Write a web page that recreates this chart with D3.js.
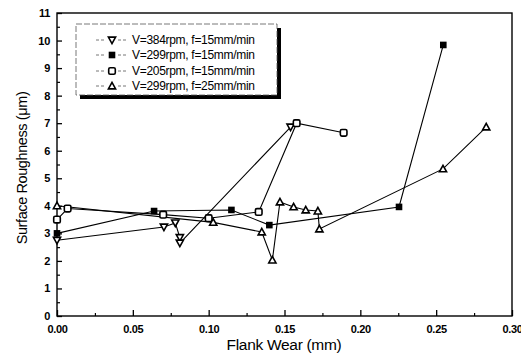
<!DOCTYPE html>
<html>
<head>
<meta charset="utf-8">
<script src="https://cdn.jsdelivr.net/npm/d3@7"></script>
<style>
html,body{margin:0;padding:0;background:#fff;}
svg{display:block;}
text{font-family:"Liberation Sans",Arial,sans-serif;fill:#000;}
</style>
</head>
<body>
<svg id="chart" width="521" height="364"></svg>
<script>
// ---- data ----
const xTicks = [0, 0.05, 0.10, 0.15, 0.20, 0.25, 0.30];
const xTickLabels = ["0.00", "0.05", "0.10", "0.15", "0.20", "0.25", "0.30"];
const yTicks = [0,1,2,3,4,5,6,7,8,9,10,11];
const seriesNames = ["V=384rpm, f=15mm/min", "V=299rpm, f=15mm/min", "V=205rpm, f=15mm/min", "V=299rpm, f=25mm/min"];
const seriesMarkers = ["downTriangle", "filledSquare", "openSquare", "upTriangle"];

const s1x = [0, 0.0705, 0.078, 0.081, 0.081, 0.154];
const s1y = [2.75, 3.23, 3.38, 2.85, 2.65, 6.86];

const s2x = [0, 0.064, 0.115, 0.140, 0.2255, 0.2547];
const s2y = [3.0, 3.81, 3.85, 3.30, 3.96, 9.84];

const s3x = [0, 0.007, 0.070, 0.100, 0.133, 0.158, 0.189];
const s3y = [3.5, 3.9, 3.68, 3.55, 3.78, 7.0, 6.65];

const s4x = [0, 0.103, 0.135, 0.142, 0.147, 0.156, 0.164, 0.172, 0.173, 0.2545, 0.283];
const s4y = [4.0, 3.4, 3.05, 2.03, 4.14, 3.96, 3.85, 3.81, 3.16, 5.34, 6.86];

const allX = [s1x, s2x, s3x, s4x];
const allY = [s1y, s2y, s3y, s4y];

// ---- layout ----
const svg = d3.select("#chart");
const L = 57, R = 512, T = 13, B = 316;
const x = d3.scaleLinear().domain([0, 0.30]).range([L, R]);
const y = d3.scaleLinear().domain([0, 11]).range([B, T]);

// frame
svg.append("rect").attr("x", L).attr("y", T).attr("width", R - L).attr("height", B - T)
  .attr("fill", "none").attr("stroke", "#000").attr("stroke-width", 1.4);

// x axis (ticks inward)
const xMinor = d3.range(0.025, 0.30, 0.05);
svg.append("g").attr("transform", `translate(0,${B})`)
  .call(d3.axisBottom(x).tickValues(xMinor).tickSize(-3).tickFormat(""))
  .call(g => { g.select(".domain").remove(); g.selectAll("line").attr("stroke-width", 1.2); });
const xg = svg.append("g").attr("transform", `translate(0,${B})`)
  .call(d3.axisBottom(x).tickValues(xTicks).tickSize(-6).tickPadding(9)
    .tickFormat((d, i) => xTickLabels[i]));
xg.select(".domain").remove();
xg.selectAll("line").attr("stroke-width", 1.3);
xg.selectAll("text").attr("font-size", 11).attr("font-weight", "bold").attr("letter-spacing", -0.3)
  .style("font-family", "'Liberation Sans', Arial, sans-serif");

// y axis
const yMinor = d3.range(0.5, 11, 1);
svg.append("g").attr("transform", `translate(${L},0)`)
  .call(d3.axisLeft(y).tickValues(yMinor).tickSize(-3).tickFormat(""))
  .call(g => { g.select(".domain").remove(); g.selectAll("line").attr("stroke-width", 1.2); });
const yg = svg.append("g").attr("transform", `translate(${L},0)`)
  .call(d3.axisLeft(y).tickValues(yTicks).tickSize(-5).tickPadding(7).tickFormat(d3.format("d")));
yg.select(".domain").remove();
yg.selectAll("line").attr("stroke-width", 1.3);
yg.selectAll("text").attr("font-size", 11).attr("font-weight", "bold").attr("letter-spacing", -0.3)
  .style("font-family", "'Liberation Sans', Arial, sans-serif");

// axis titles
svg.append("text").attr("x", 284).attr("y", 350).attr("text-anchor", "middle")
  .attr("font-size", 15.5).attr("letter-spacing", -0.3).text("Flank Wear (mm)");
svg.append("text").attr("transform", "translate(27,168) rotate(-90)").attr("text-anchor", "middle")
  .attr("font-size", 14.5).attr("letter-spacing", -0.4).text("Surface Roughness (\u03bcm)");

// markers
function drawMarker(g, type, cx, cy) {
  const s = 3.6;
  if (type === "downTriangle") {
    g.append("path").attr("d", `M${cx - s},${cy - s * 0.8}L${cx + s},${cy - s * 0.8}L${cx},${cy + s * 1.0}Z`)
      .attr("fill", "#fff").attr("stroke", "#000").attr("stroke-width", 1.6);
  } else if (type === "upTriangle") {
    g.append("path").attr("d", `M${cx - s},${cy + s * 0.8}L${cx + s},${cy + s * 0.8}L${cx},${cy - s * 1.0}Z`)
      .attr("fill", "#fff").attr("stroke", "#000").attr("stroke-width", 1.6);
  } else if (type === "filledSquare") {
    g.append("rect").attr("x", cx - 3.3).attr("y", cy - 3.3).attr("width", 6.6).attr("height", 6.6)
      .attr("fill", "#000");
  } else {
    g.append("rect").attr("x", cx - 3.3).attr("y", cy - 3.3).attr("width", 6.6).attr("height", 6.6)
      .attr("rx", 1.5).attr("fill", "#fff").attr("stroke", "#000").attr("stroke-width", 1.6);
  }
}

// lines
const line = d3.line().x(d => x(d[0])).y(d => y(d[1]));
const dataSets = allX.map((xs, i) => xs.map((v, j) => [v, allY[i][j]]));
dataSets.forEach(ds => {
  svg.append("path").datum(ds).attr("d", line).attr("fill", "none")
    .attr("stroke", "#000").attr("stroke-width", 1.1);
});
const mg = svg.append("g");
dataSets.forEach((ds, i) => {
  ds.forEach(p => drawMarker(mg, seriesMarkers[i], x(p[0]), y(p[1])));
});

// legend
const lg = svg.append("g");
lg.append("rect").attr("x", 80).attr("y", 28).attr("width", 201).attr("height", 71).attr("fill", "#000");
lg.append("rect").attr("x", 76).attr("y", 24).attr("width", 201).attr("height", 71)
  .attr("fill", "#fff").attr("stroke", "#555").attr("stroke-width", 0.8).attr("stroke-dasharray", "6,2");
const rowY = [40, 55, 71, 86];
seriesNames.forEach((name, i) => {
  const yy = rowY[i];
  lg.append("line").attr("x1", 96).attr("x2", 106).attr("y1", yy).attr("y2", yy)
    .attr("stroke", "#777").attr("stroke-width", 1).attr("stroke-dasharray", "3,2");
  lg.append("line").attr("x1", 118).attr("x2", 127).attr("y1", yy).attr("y2", yy)
    .attr("stroke", "#777").attr("stroke-width", 1).attr("stroke-dasharray", "3,2");
  drawMarker(lg, seriesMarkers[i], 112, yy);
  lg.append("text").attr("x", 132).attr("y", yy + 4).attr("font-size", 12)
    .attr("letter-spacing", -0.3).text(name);
});
</script>
</body>
</html>
